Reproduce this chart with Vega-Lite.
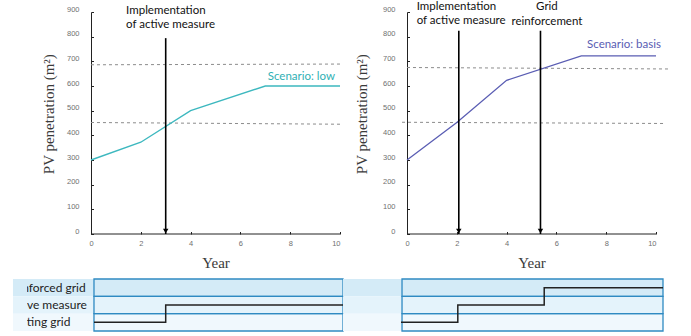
{
  "$schema": "https://vega.github.io/schema/vega-lite/v6.json",
  "background": "white",
  "padding": {"left": 12, "top": 0, "right": 0, "bottom": 0},
  "config": {
    "view": {"stroke": null},
    "axis": {
      "grid": false, "domainColor": "#222", "domainWidth": 1, "tickColor": "#222", "tickSize": -2.5, "tickWidth": 1,
      "labelFont": "Liberation Sans", "labelFontSize": 7.5, "labelColor": "#707070", "labelOverlap": false,
      "titleFont": "Liberation Serif", "titleFontSize": 15, "titleFontWeight": "normal", "titleColor": "#3a3a3a"
    },
    "axisX": {"labelPadding": 11.5, "labelBaseline": "middle", "domain": false, "titleBaseline": "alphabetic", "titleY": 33},
    "axisY": {"labelPadding": 14.5, "labelOffset": -3, "labelFlush": false, "titleBaseline": "alphabetic", "titleY": 101.7}
  },
  "datasets": {
    "lowLine": [{"year": 0, "pv": 300}, {"year": 2, "pv": 372}, {"year": 4, "pv": 500}, {"year": 7, "pv": 600}, {"year": 10, "pv": 600}],
    "basisLine": [{"year": 0, "pv": 300}, {"year": 2, "pv": 452}, {"year": 4, "pv": 623}, {"year": 7, "pv": 722}, {"year": 10, "pv": 722}],
    "lowThresholds": [{"level": "upper", "year": 0, "pv": 686}, {"level": "upper", "year": 10.1, "pv": 689}, {"level": "lower", "year": 0, "pv": 452}, {"level": "lower", "year": 10.1, "pv": 445}],
    "basisThresholds": [{"level": "upper", "year": 0, "pv": 675}, {"level": "upper", "year": 10.6, "pv": 669}, {"level": "lower", "year": -0.2, "pv": 453}, {"level": "lower", "year": 10.3, "pv": 448}],
    "lowEvents": [{"event": "Implementation of active measure", "year": 3, "top": 794}],
    "basisEvents": [{"event": "Implementation of active measure", "year": 2.08, "top": 824}, {"event": "Grid reinforcement", "year": 5.36, "top": 824}],
    "lowNotes": [{"note": "Implementation\nof active measure", "year": 1.41, "pv": 892}],
    "basisNotes": [{"note": "Implementation\nof active measure", "year": 0.39, "pv": 909}, {"note": "Grid\nreinforcement", "year": 5.62, "pv": 908}],
    "lowScenario": [{"label": "Scenario: low", "year": 9.8, "pv": 638}],
    "basisScenario": [{"label": "Scenario: basis", "year": 10.2, "pv": 767}],
    "states": [{"state": "Reinforced grid"}, {"state": "Active measure"}, {"state": "Existing grid"}],
    "lowSteps": [{"year": 0.12, "state": "Existing grid"}, {"year": 3, "state": "Active measure"}, {"year": 10.12, "state": "Active measure"}],
    "basisSteps": [{"year": -0.24, "state": "Existing grid"}, {"year": 2.04, "state": "Active measure"}, {"year": 5.51, "state": "Reinforced grid"}, {"year": 10.28, "state": "Reinforced grid"}]
  },
  "columns": 2,
  "spacing": {"row": 45, "column": 0},
  "bounds": "flush",
  "concat": [
    {
      "width": 316, "height": 222,
      "layer": [
        {"data": {"name": "lowThresholds"}, "mark": {"type": "line", "color": "#8c8c8c", "strokeWidth": 1, "strokeDash": [3, 3]},
         "encoding": {
           "x": {"field": "year", "type": "quantitative", "scale": {"domain": [-2.57, 10.12], "nice": false, "zero": false},
                 "axis": {"values": [0, 2, 4, 6, 8, 10], "labelFlush": 4, "title": "Year", "titleX": 188.5}},
           "y": {"field": "pv", "type": "quantitative", "scale": {"domain": [0, 900], "nice": false},
                 "axis": {"values": [0, 100, 200, 300, 400, 500, 600, 700, 800, 900], "tickCount": 10, "labelOverlap": false, "offset": -64, "title": "PV penetration (m²)", "titleX": -38}},
           "detail": {"field": "level"}}},
        {"data": {"name": "lowLine"}, "mark": {"type": "line", "color": "#3db8bf", "strokeWidth": 1.4},
         "encoding": {"x": {"field": "year", "type": "quantitative"}, "y": {"field": "pv", "type": "quantitative"}}},
        {"data": {"values": [{}]}, "mark": {"type": "rule", "color": "#222", "strokeWidth": 1},
         "encoding": {"x": {"datum": 0, "type": "quantitative"}, "x2": {"datum": 10}, "y": {"datum": 0, "type": "quantitative"}}},
        {"data": {"name": "lowEvents"}, "mark": {"type": "rule", "color": "#000", "strokeWidth": 1.6},
         "encoding": {"x": {"field": "year", "type": "quantitative"}, "y": {"field": "top", "type": "quantitative"}, "y2": {"datum": 0}}},
        {"data": {"name": "lowEvents"}, "mark": {"type": "point", "shape": "triangle-down", "filled": true, "color": "#000", "size": 30, "opacity": 1, "yOffset": -3},
         "encoding": {"x": {"field": "year", "type": "quantitative"}, "y": {"datum": 0, "type": "quantitative"}}},
        {"data": {"name": "lowNotes"}, "mark": {"type": "text", "align": "left", "baseline": "alphabetic", "font": "Lato", "fontSize": 11.5, "color": "#111", "lineBreak": "\n", "lineHeight": 14.3},
         "encoding": {"x": {"field": "year", "type": "quantitative"}, "y": {"field": "pv", "type": "quantitative"}, "text": {"field": "note"}}},
        {"data": {"name": "lowScenario"}, "mark": {"type": "text", "align": "right", "baseline": "middle", "font": "Lato", "fontSize": 11.5, "color": "#2fb0b4"},
         "encoding": {"x": {"field": "year", "type": "quantitative"}, "y": {"field": "pv", "type": "quantitative"}, "text": {"field": "label"}}}
      ]
    },
    {
      "width": 320, "height": 222,
      "layer": [
        {"data": {"name": "basisThresholds"}, "mark": {"type": "line", "color": "#8c8c8c", "strokeWidth": 1, "strokeDash": [3, 3]},
         "encoding": {
           "x": {"field": "year", "type": "quantitative", "scale": {"domain": [-2.57, 10.28], "nice": false, "zero": false},
                 "axis": {"values": [0, 2, 4, 6, 8, 10], "labelFlush": 8, "title": "Year", "titleX": 188.5}},
           "y": {"field": "pv", "type": "quantitative", "scale": {"domain": [0, 900], "nice": false},
                 "axis": {"values": [0, 100, 200, 300, 400, 500, 600, 700, 800, 900], "tickCount": 10, "labelOverlap": false, "offset": -64, "title": "PV penetration (m²)", "titleX": -41}},
           "detail": {"field": "level"}}},
        {"data": {"name": "basisLine"}, "mark": {"type": "line", "color": "#5a5db3", "strokeWidth": 1.3},
         "encoding": {"x": {"field": "year", "type": "quantitative"}, "y": {"field": "pv", "type": "quantitative"}}},
        {"data": {"values": [{}]}, "mark": {"type": "rule", "color": "#222", "strokeWidth": 1},
         "encoding": {"x": {"datum": 0, "type": "quantitative"}, "x2": {"datum": 10}, "y": {"datum": 0, "type": "quantitative"}}},
        {"data": {"name": "basisEvents"}, "mark": {"type": "rule", "color": "#000", "strokeWidth": 1.6},
         "encoding": {"x": {"field": "year", "type": "quantitative"}, "y": {"field": "top", "type": "quantitative"}, "y2": {"datum": 0}}},
        {"data": {"name": "basisEvents"}, "mark": {"type": "point", "shape": "triangle-down", "filled": true, "color": "#000", "size": 30, "opacity": 1, "yOffset": -3},
         "encoding": {"x": {"field": "year", "type": "quantitative"}, "y": {"datum": 0, "type": "quantitative"}}},
        {"data": {"name": "basisNotes"}, "transform": [{"filter": "datum.year < 2"}],
         "mark": {"type": "text", "align": "left", "baseline": "alphabetic", "font": "Lato", "fontSize": 11.5, "color": "#111", "lineBreak": "\n", "lineHeight": 14.5},
         "encoding": {"x": {"field": "year", "type": "quantitative"}, "y": {"field": "pv", "type": "quantitative"}, "text": {"field": "note"}}},
        {"data": {"name": "basisNotes"}, "transform": [{"filter": "datum.year > 2"}],
         "mark": {"type": "text", "align": "center", "baseline": "alphabetic", "font": "Lato", "fontSize": 11.5, "color": "#111", "lineBreak": "\n", "lineHeight": 14.5},
         "encoding": {"x": {"field": "year", "type": "quantitative"}, "y": {"field": "pv", "type": "quantitative"}, "text": {"field": "note"}}},
        {"data": {"name": "basisScenario"}, "mark": {"type": "text", "align": "right", "baseline": "middle", "font": "Lato", "fontSize": 11.5, "color": "#5a5db3"},
         "encoding": {"x": {"field": "year", "type": "quantitative"}, "y": {"field": "pv", "type": "quantitative"}, "text": {"field": "label"}}}
      ]
    },
    {
      "width": 316, "height": 52,
      "layer": [
        {"data": {"name": "states"}, "mark": {"type": "rect"},
         "encoding": {
           "x": {"datum": -3.133, "type": "quantitative", "scale": {"domain": [-2.57, 10.12], "nice": false, "zero": false}, "axis": null},
           "x2": {"datum": 10.12},
           "y": {"field": "state", "type": "nominal", "scale": {"domain": ["Reinforced grid", "Active measure", "Existing grid"], "paddingInner": 0, "paddingOuter": 0}, "axis": null},
           "color": {"field": "state", "type": "nominal", "scale": {"domain": ["Reinforced grid", "Active measure", "Existing grid"], "range": ["#d4ebf7", "#e4f3fb", "#f0f8fd"]}, "legend": null}
         }},
        {"data": {"name": "states"}, "mark": {"type": "rect", "filled": false, "color": "#2f8ac2", "strokeWidth": 1.3},
         "encoding": {"x": {"datum": 0.12, "type": "quantitative"}, "x2": {"datum": 10.12}, "y": {"field": "state", "type": "nominal"}}},
        {"data": {"name": "states"}, "mark": {"type": "text", "align": "left", "baseline": "middle", "font": "Lato", "fontSize": 12, "color": "#222", "clip": true},
         "encoding": {"x": {"datum": -3.42, "type": "quantitative"}, "y": {"field": "state", "type": "nominal"}, "text": {"field": "state"}}},
        {"data": {"name": "lowSteps"}, "mark": {"type": "line", "interpolate": "step-after", "color": "#222", "strokeWidth": 1.5},
         "encoding": {"x": {"field": "year", "type": "quantitative"}, "y": {"field": "state", "type": "nominal"}, "order": {"field": "year", "type": "quantitative"}}}
      ]
    },
    {
      "width": 320, "height": 52,
      "layer": [
        {"data": {"name": "states"}, "mark": {"type": "rect"},
         "encoding": {
           "x": {"datum": -2.57, "type": "quantitative", "scale": {"domain": [-2.57, 10.28], "nice": false, "zero": false}, "axis": null},
           "x2": {"datum": 10.28},
           "y": {"field": "state", "type": "nominal", "scale": {"domain": ["Reinforced grid", "Active measure", "Existing grid"], "paddingInner": 0, "paddingOuter": 0}, "axis": null},
           "color": {"field": "state", "type": "nominal", "scale": {"domain": ["Reinforced grid", "Active measure", "Existing grid"], "range": ["#d4ebf7", "#e4f3fb", "#f0f8fd"]}, "legend": null}
         }},
        {"data": {"name": "states"}, "mark": {"type": "rect", "filled": false, "color": "#2f8ac2", "strokeWidth": 1.3},
         "encoding": {"x": {"datum": -0.2, "type": "quantitative"}, "x2": {"datum": 10.28}, "y": {"field": "state", "type": "nominal"}}},
        {"data": {"name": "basisSteps"}, "mark": {"type": "line", "interpolate": "step-after", "color": "#222", "strokeWidth": 1.5},
         "encoding": {"x": {"field": "year", "type": "quantitative"}, "y": {"field": "state", "type": "nominal"}, "order": {"field": "year", "type": "quantitative"}}}
      ]
    }
  ]
}
